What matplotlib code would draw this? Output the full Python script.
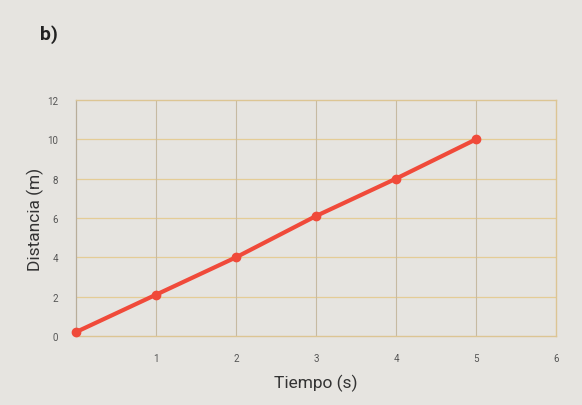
import matplotlib
matplotlib.use("Agg")
import matplotlib.pyplot as plt

tiempo = [0, 1, 2, 3, 4, 5]
distancia = [0.2, 2.1, 4.0, 6.1, 8.0, 10.0]
x_ticks = [1, 2, 3, 4, 5, 6]
y_ticks = [0, 2, 4, 6, 8, 10, 12]

plt.rcParams['font.family'] = ['Roboto', 'DejaVu Sans']

bg = '#e6e4e0'
fig = plt.figure(figsize=(5.82, 4.06), dpi=100, facecolor=bg)
ax = fig.add_axes([76/582, 1-337/406, 480/582, 236/406])
ax.set_facecolor(bg)

ax.set_xlim(0, 6)
ax.set_ylim(0, 12)
ax.set_xticks(x_ticks)
ax.set_yticks(y_ticks)
ax.set_xticklabels([str(t) for t in x_ticks])
ax.set_yticklabels([str(t) for t in y_ticks])
ax.tick_params(length=0, labelsize=7, colors='#555555', pad=12)
ax.tick_params(axis='y', pad=13)

for y in y_ticks[1:-1]:
    ax.axhline(y, color='#e4cc96', lw=0.9, zorder=1)
for x in x_ticks[:-1]:
    ax.axvline(x, color='#c6baa2', lw=0.8, zorder=1)

for side in ['top', 'right', 'bottom']:
    ax.spines[side].set_color('#dcc594')
    ax.spines[side].set_linewidth(1.0)
ax.spines['left'].set_color('#b8ad9a')
ax.spines['left'].set_linewidth(0.9)

ax.plot(tiempo, distancia, color='#f04a3a', lw=3.0, marker='o', ms=6,
        markerfacecolor='#f04a3a', markeredgecolor='#f04a3a',
        solid_capstyle='round', clip_on=False, zorder=5)

ax.set_xlabel('Tiempo (s)', fontsize=12.5, color='#333333', labelpad=8)
ax.set_ylabel('Distancia (m)', fontsize=12.5, color='#333333', labelpad=2)

fig.text(40/582, 1-35/406, 'b)', fontsize=14, fontweight='bold', color='#222222',
         va='center', ha='left')

fig.savefig('out.png', dpi=100, facecolor=bg)
